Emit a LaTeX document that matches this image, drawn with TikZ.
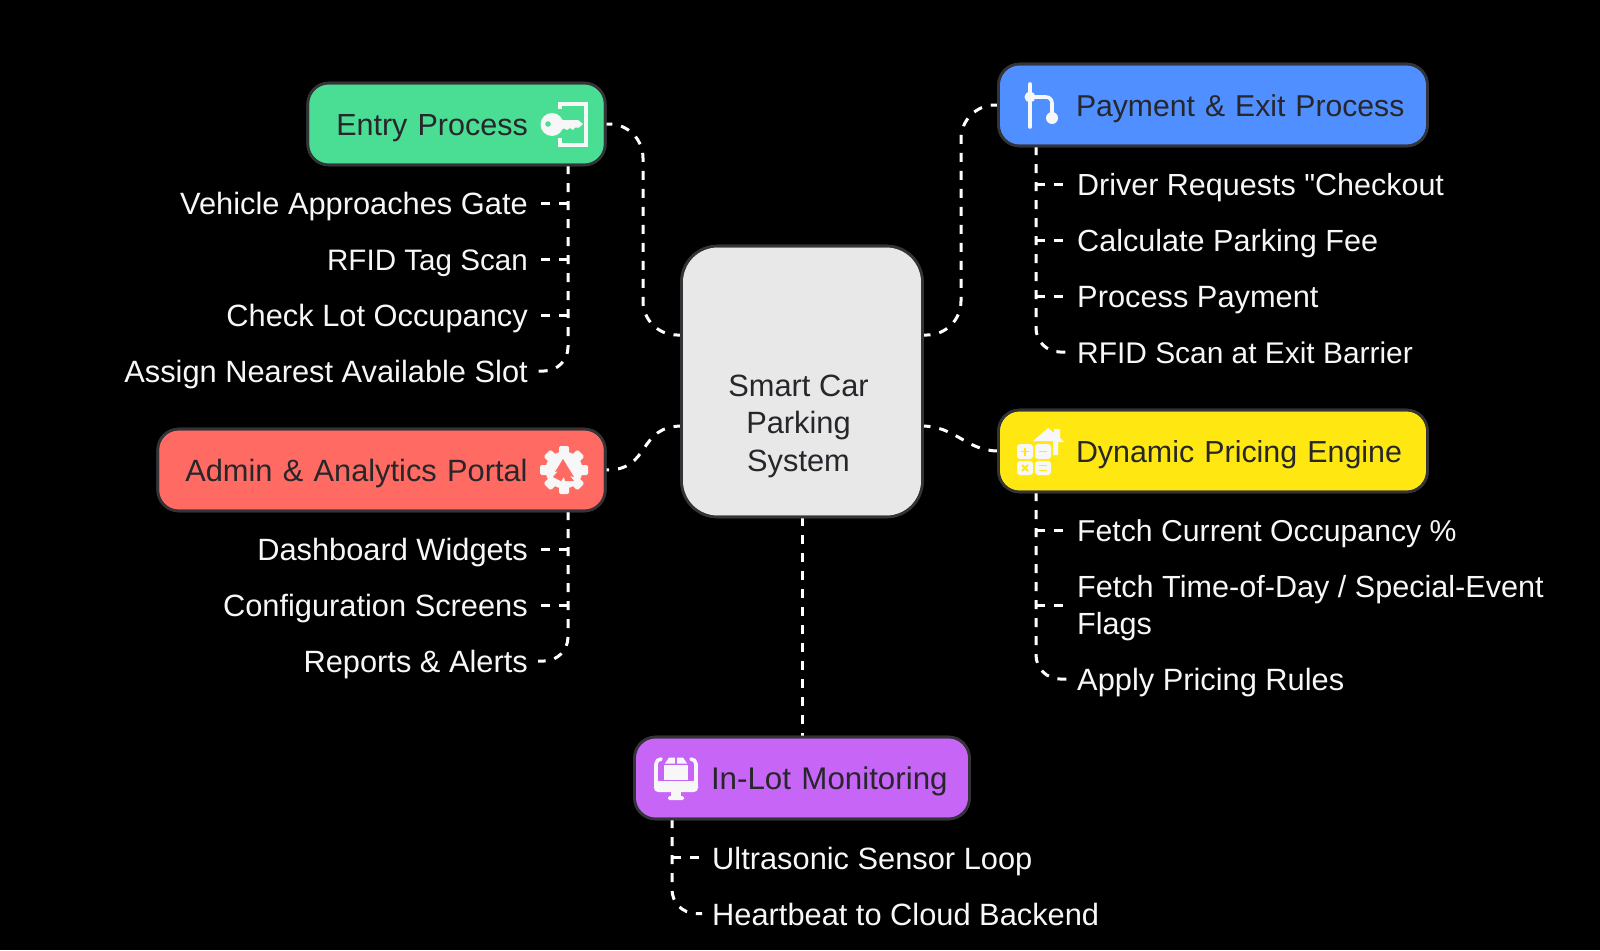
\documentclass[tikz,border=0pt]{standalone}
\usepackage{fontspec}
\setmainfont{Liberation Sans}[Ligatures=TeXOff]
\definecolor{inkdark}{HTML}{26262B}
\definecolor{edge}{HTML}{333338}
\definecolor{wht}{HTML}{F7F7F7}
\definecolor{cgreen}{HTML}{4ADE94}
\definecolor{cblue}{HTML}{4F8FFF}
\definecolor{cyellow}{HTML}{FFE812}
\definecolor{cred}{HTML}{FF6B63}
\definecolor{cpurple}{HTML}{C765F7}
\definecolor{chub}{HTML}{E8E8E8}
\tikzset{
  fs/.style={font=\fontsize{#1}{37}\selectfont},
  conn/.style={draw=white,line width=3pt,dash pattern=on 9pt off 9pt},
  boxnode/.style={draw=edge,line width=2.6pt,outer sep=0pt,rounded corners=21pt,inner xsep=10pt,inner ysep=0pt,minimum height=82pt,text height=30pt,text depth=7pt,align=left,text=inkdark,fs=30.8},
  hubnode/.style={draw=edge,fill=chub,line width=2.6pt,outer sep=0pt,rounded corners=36pt,minimum width=241pt,minimum height=271pt},
  hubtext/.style={text=inkdark,align=center,inner sep=0pt,font=\fontsize{30.8}{37.5}\selectfont},
  leftkid/.style={anchor=east,text=wht,inner xsep=10pt,inner ysep=2pt,text height=30pt,text depth=6.5pt,fs=30.8},
  rightkid/.style={anchor=west,align=left,text=wht,inner xsep=10pt,inner ysep=2pt,text height=30pt,text depth=6.5pt,fs=30.8},
  twolinekid/.style={anchor=west,align=left,text=wht,inner xsep=10pt,inner ysep=2pt,fs=30.6},
  outline/.style={draw=edge,line width=2.6pt,rounded corners=21pt},
}
\begin{document}
\begin{tikzpicture}[x=1pt,y=-1pt]
\useasboundingbox (0,0) rectangle (1600,950);
\fill[black] (0,0) rectangle (1600,950);

% hub and branch boxes
\node[hubnode] (hub) at (802,381.5) {};
\node[hubtext] (hubtitle) at (798.5,426) {Smart Car\\Parking\\System};
\node[boxnode,fs=30.5,text width=277.5pt] (entry) [fill=cgreen] at (456.5,124) {\hspace*{18.5pt}Entry Process};
\node[boxnode,fs=30.15,text width=409pt] (pay) [fill=cblue] at (1213,105) {\hspace*{67.5pt}Payment \& Exit Process};
\node[boxnode,fs=30.4,text width=409pt] (dyn) [fill=cyellow] at (1213,451) {\hspace*{67.5pt}Dynamic Pricing Engine};
\node[boxnode,fs=30.8,text width=427.5pt] (admin) [fill=cred] at (381.5,470) {\hspace*{17.5pt}Admin \& Analytics Portal};
\node[boxnode,fs=31.3,text width=315pt] (lot) [fill=cpurple] at (802,778) {\hspace*{66.5pt}In-Lot Monitoring};

% children
\node[leftkid] (e1) at (538,203) {Vehicle Approaches Gate};
\node[leftkid,fs=29.6] (e2) at (538,259) {RFID Tag Scan};
\node[leftkid] (e3) at (538,315) {Check Lot Occupancy};
\node[leftkid] (e4) at (538,371) {Assign Nearest Available Slot};
\node[leftkid] (a1) at (538,549) {Dashboard Widgets};
\node[leftkid] (a2) at (538,605) {Configuration Screens};
\node[leftkid] (a3) at (538,661) {Reports \& Alerts};
\node[rightkid,fs=30.5] (p1) at (1067,184) {Driver Requests "Checkout};
\node[rightkid,fs=30.6] (p2) at (1067,240) {Calculate Parking Fee};
\node[rightkid] (p3) at (1067,296) {Process Payment};
\node[rightkid,fs=29.9] (p4) at (1067,352) {RFID Scan at Exit Barrier};
\node[rightkid,fs=30.2] (d1) at (1067,530) {Fetch Current Occupancy \%};
\node[twolinekid] (d2) at (1067,608) {Fetch Time-of-Day / Special-Event\\Flags};
\node[rightkid] (d3) at (1067,679) {Apply Pricing Rules};
\node[rightkid] (m1) at (702,857.5) {Ultrasonic Sensor Loop};
\node[rightkid] (m2) at (702,913.5) {Heartbeat to Cloud Backend};

% connector helpers
\coordinate (d2mid) at (1067,605);
\coordinate (hubNW) at (682.5,335);
\coordinate (hubNE) at (921.5,335);
\coordinate (hubSW) at (682.5,426);
\coordinate (hubSE) at (921.5,426);
\coordinate (elbowL) at (643,230);
\coordinate (elbowR) at (961,230);
\coordinate (etop) at (568,165);
\coordinate (atop) at (568,511);
\coordinate (ptop) at (1036,146);
\coordinate (dtop) at (1036,492);
\coordinate (mtop) at (672,819);

% hub connectors, each starting at the hub
\draw[conn,rounded corners=34pt] (hubNW) -| (elbowL) |- (entry.east);
\draw[conn,rounded corners=34pt] (hubNE) -| (elbowR) |- (pay.west);
\draw[conn] (hubSW) .. controls (636,426) and (652,471) .. (admin.east);
\draw[conn] (hubSE) .. controls (956,426) and (966,451) .. (dyn.west);
\draw[conn] (hub.south) -- (lot.north);

% child connectors
\draw[conn] (etop |- e1) -- (e1.east);
\draw[conn] (etop |- e2) -- (e2.east);
\draw[conn] (etop |- e3) -- (e3.east);
\draw[conn,rounded corners=24pt] (etop) |- (e4.east);
\draw[conn] (atop |- a1) -- (a1.east);
\draw[conn] (atop |- a2) -- (a2.east);
\draw[conn,rounded corners=24pt] (atop) |- (a3.east);
\draw[conn] (ptop |- p1) -- (p1.west);
\draw[conn] (ptop |- p2) -- (p2.west);
\draw[conn] (ptop |- p3) -- (p3.west);
\draw[conn,rounded corners=24pt] (ptop) |- (p4.west);
\draw[conn] (dtop |- d1) -- (d1.west);
\draw[conn] (dtop |- d2mid) -- (d2mid);
\draw[conn,rounded corners=24pt] (dtop) |- (d3.west);
\draw[conn] (mtop |- m1) -- (m1.west);
\draw[conn,rounded corners=24pt] (mtop) |- (m2.west);

% redraw box borders over connector ends
\draw[outline] (entry.south west) rectangle (entry.north east);
\draw[outline] (pay.south west) rectangle (pay.north east);
\draw[outline] (dyn.south west) rectangle (dyn.north east);
\draw[outline] (admin.south west) rectangle (admin.north east);
\draw[outline] (lot.south west) rectangle (lot.north east);
\draw[outline,rounded corners=36pt] (hub.south west) rectangle (hub.north east);

% key in door icon
\draw[draw=wht,line width=4pt] (560,109) -- (560,103.5) -- (585.5,103.5) -- (585.5,145) -- (560,145) -- (560,138);
\fill[wht] (552,124.5) circle (11.5pt);
\fill[wht] (556,120) -- (578,120) -- (583,124) -- (579,127.5) -- (575,127.5) -- (573,130) -- (570,128) -- (567,130) -- (564,128.5) -- (556,131) -- cycle;
\fill[cgreen] (548,124) circle (2.8pt);

% branch icon
\draw[draw=wht,line width=3.6pt,line cap=round] (1030,84) -- (1030,127);
\fill[wht] (1030,97) circle (5.5pt);
\draw[draw=wht,line width=3.6pt,rounded corners=6pt] (1030,97) -- (1052,97) -- (1052,116);
\fill[wht] (1052,118) circle (6pt);

% calculator and house icon
\fill[wht] (1033,441) -- (1048,428) -- (1054,433) -- (1054,429) -- (1060,429) -- (1060,438) -- (1064,442) -- (1058,442) -- (1058,455) -- (1053,455) -- (1053,441) -- cycle;
\fill[wht,rounded corners=3pt] (1017,444) rectangle (1033,459);
\fill[wht,rounded corners=3pt] (1035,444) rectangle (1051,459);
\fill[wht,rounded corners=3pt] (1017,461) rectangle (1033,475);
\fill[wht,rounded corners=3pt] (1035,461) rectangle (1051,475);
\draw[draw=cyellow,line width=1.8pt] (1021,451.5) -- (1029,451.5) (1025,447.5) -- (1025,455.5);
\draw[draw=cyellow,line width=1.8pt] (1039,451.5) -- (1047,451.5);
\draw[draw=cyellow,line width=1.8pt] (1022,465) -- (1028,471) (1028,465) -- (1022,471);
\draw[draw=cyellow,line width=1.8pt] (1039,465.5) -- (1047,465.5) (1039,470.5) -- (1047,470.5);

% gear icon
\fill[wht] (564,470) circle (18.5pt);
\foreach \ang in {0,45,...,315} {
  \fill[wht,rounded corners=1.5pt,shift={(564,470)},rotate=\ang] (-5,-24) rectangle (5,-14);
}
\fill[cred] (563,459) -- (574,477) -- (570,476) -- (574,481) -- (565,481) -- (564,477) -- (561,481) -- (553,477) -- (558,471) -- (555,472) -- cycle;

% monitor and parcel icon
\draw[draw=wht,line width=3.6pt,line cap=round,rounded corners=5pt] (661,759) -- (656,759) -- (656,786);
\draw[draw=wht,line width=3.6pt,line cap=round,rounded corners=5pt] (691,759) -- (696,759) -- (696,786);
\fill[wht,rounded corners=4pt] (654,781) rectangle (698,792);
\fill[wht] (664,765) rectangle (688,780);
\fill[wht] (669,757.5) -- (675,757.5) -- (675,763.5) -- (665,763.5) -- cycle;
\fill[wht] (677,757.5) -- (683,757.5) -- (687,763.5) -- (677,763.5) -- cycle;
\fill[wht] (671,792) rectangle (681,797);
\fill[wht,rounded corners=1.5pt] (668,796) rectangle (684,800);
\end{tikzpicture}
\end{document}
